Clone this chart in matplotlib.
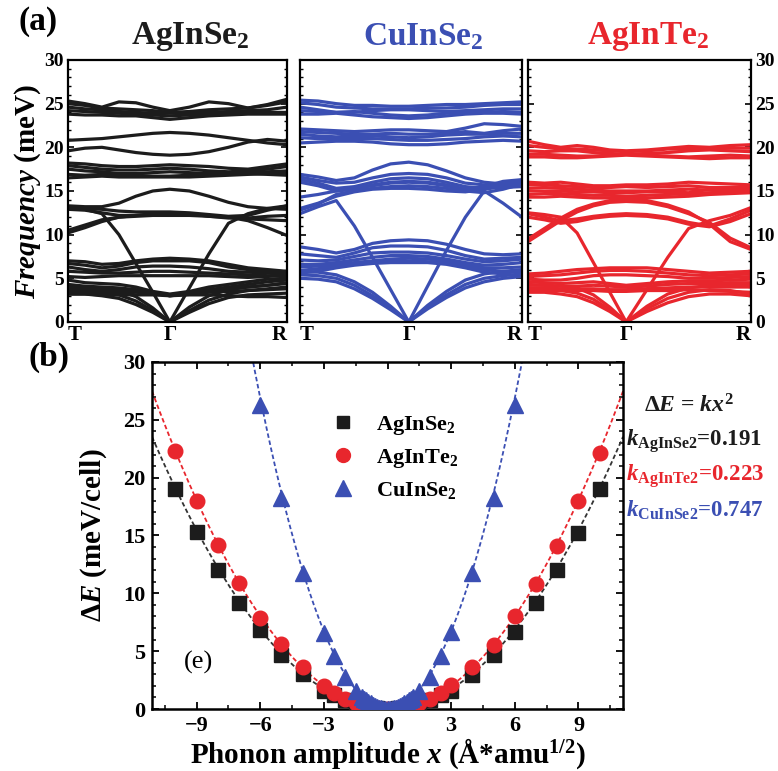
import numpy as np
import matplotlib
matplotlib.use("Agg")
import matplotlib.pyplot as plt
from matplotlib.lines import Line2D
from matplotlib.ticker import MultipleLocator

plt.rcParams['font.family'] = ['Liberation Serif', 'DejaVu Serif']
plt.rcParams['font.weight'] = 'bold'
plt.rcParams['mathtext.fontset'] = 'custom'
plt.rcParams['mathtext.rm'] = 'Liberation Serif:bold'
plt.rcParams['mathtext.it'] = 'Liberation Serif:italic:bold'
plt.rcParams['mathtext.bf'] = 'Liberation Serif:bold'

# ---------------- data ----------------
kpath_labels = ['T', 'Γ', 'R']
gamma_frac = [0.465, 0.49, 0.44]
titles = ['AgInSe$_\\mathbf{2}$', 'CuInSe$_\\mathbf{2}$', 'AgInTe$_\\mathbf{2}$']
colors = ['#1c1c1c', '#3b4fb3', '#e8262d']

# phonon branches, 13 k-points: T ... Gamma (index 6) ... R
agse_bands = [
    [25.3, 25.0, 24.6, 25.2, 25.1, 24.6, 24.2, 24.6, 25.2, 25.0, 24.5, 24.9, 25.5],
    [25.0, 24.8, 24.5, 24.4, 24.3, 24.2, 24.0, 24.1, 24.3, 24.4, 24.5, 24.8, 25.2],
    [24.6, 24.4, 24.3, 24.1, 24.0, 23.9, 23.9, 23.9, 24.0, 24.1, 24.2, 24.3, 24.6],
    [24.2, 24.1, 24.0, 23.9, 23.8, 23.7, 23.6, 23.7, 23.8, 23.9, 24.0, 24.0, 24.0],
    [23.8, 23.7, 23.7, 23.6, 23.6, 23.4, 23.2, 23.4, 23.6, 23.7, 23.8, 23.8, 23.8],
    [20.8, 20.9, 21.0, 21.2, 21.4, 21.6, 21.7, 21.6, 21.4, 21.1, 20.8, 20.5, 20.3],
    [19.6, 19.9, 20.0, 19.7, 19.4, 19.2, 19.1, 19.2, 19.5, 20.0, 20.6, 20.9, 20.7],
    [18.2, 18.1, 17.9, 17.8, 17.8, 17.9, 18.0, 17.9, 17.8, 17.6, 17.5, 17.8, 18.1],
    [17.9, 17.7, 17.5, 17.4, 17.4, 17.5, 17.6, 17.5, 17.3, 17.2, 17.3, 17.5, 17.8],
    [17.5, 17.3, 17.2, 17.0, 17.0, 17.1, 17.2, 17.1, 17.0, 17.0, 17.1, 17.2, 17.3],
    [16.9, 16.8, 16.9, 16.9, 16.8, 16.7, 16.7, 16.8, 16.9, 17.0, 17.0, 16.9, 16.8],
    [16.5, 16.6, 16.7, 16.6, 16.6, 16.6, 16.6, 16.6, 16.7, 16.8, 16.9, 17.0, 17.0],
    [13.3, 13.2, 13.2, 13.6, 14.4, 15.0, 15.2, 15.0, 14.4, 13.7, 13.2, 13.0, 12.9],
    [13.1, 13.0, 12.9, 12.7, 12.6, 12.6, 12.6, 12.5, 12.3, 12.1, 12.2, 12.8, 13.3],
    [12.9, 12.8, 12.5, 12.2, 12.2, 12.4, 12.5, 12.4, 12.1, 11.9, 11.9, 12.1, 12.2],
    [10.2, 10.8, 11.5, 12.0, 12.2, 12.3, 12.3, 12.3, 12.2, 12.0, 11.8, 11.7, 11.6],
    [10.5, 11.1, 11.7, 12.0, 12.1, 12.2, 12.2, 12.2, 12.1, 12.0, 11.6, 10.8, 9.9],
    [13.0, 12.9, 12.4, 10.0, 6.7, 3.4, 0.0, 3.9, 7.8, 11.3, 12.4, 13.0, 13.3],
    [7.0, 6.9, 6.6, 6.7, 7.0, 7.2, 7.3, 7.2, 7.0, 6.6, 6.2, 6.0, 5.8],
    [6.7, 6.5, 6.2, 6.4, 6.8, 7.0, 7.0, 7.0, 6.8, 6.3, 6.0, 5.8, 5.6],
    [6.3, 6.0, 5.8, 6.0, 6.3, 6.4, 6.4, 6.3, 6.1, 5.8, 5.7, 5.6, 5.4],
    [5.8, 5.7, 5.6, 5.6, 5.7, 5.8, 5.8, 5.7, 5.6, 5.5, 5.4, 5.3, 5.2],
    [5.2, 5.1, 5.2, 5.3, 5.3, 5.3, 5.3, 5.3, 5.3, 5.2, 5.1, 5.2, 5.5],
    [4.8, 4.5, 4.4, 4.3, 4.0, 3.5, 3.2, 3.5, 4.0, 4.3, 4.6, 4.9, 5.0],
    [4.3, 4.1, 4.0, 3.9, 3.7, 3.4, 3.1, 3.4, 3.7, 4.0, 4.3, 4.6, 4.8],
    [3.9, 3.8, 3.6, 3.6, 3.6, 3.4, 3.0, 3.3, 3.6, 3.8, 4.0, 4.2, 4.4],
    [3.5, 3.4, 3.3, 3.3, 3.4, 3.3, 3.0, 3.2, 3.4, 3.5, 3.6, 3.7, 3.8],
    [3.2, 3.2, 3.1, 3.1, 3.1, 3.1, 3.0, 3.1, 3.1, 3.0, 2.9, 2.9, 2.8],
    [4.0, 4.0, 3.9, 3.6, 2.9, 1.6, 0.0, 1.7, 3.0, 3.7, 4.0, 4.2, 4.5],
    [3.6, 3.6, 3.4, 3.1, 2.4, 1.3, 0.0, 1.3, 2.5, 3.2, 3.6, 3.8, 4.0],
    [3.2, 3.2, 3.0, 2.7, 2.0, 1.1, 0.0, 1.1, 2.1, 2.8, 3.1, 3.2, 3.3],
]

cuse_bands = [
    [25.4, 25.3, 25.0, 24.8, 24.8, 24.7, 24.7, 24.8, 24.9, 24.9, 25.0, 25.1, 25.2],
    [25.1, 24.9, 24.6, 24.5, 24.4, 24.4, 24.4, 24.5, 24.5, 24.6, 24.8, 24.9, 24.9],
    [24.6, 24.3, 24.0, 24.0, 24.2, 24.3, 24.3, 24.2, 24.1, 24.2, 24.3, 24.4, 24.4],
    [24.2, 24.1, 24.0, 24.1, 23.9, 23.7, 23.6, 23.7, 23.9, 24.0, 24.0, 24.1, 24.0],
    [23.8, 23.8, 23.9, 23.7, 23.5, 23.4, 23.3, 23.4, 23.6, 23.8, 23.9, 23.9, 23.8],
    [22.1, 22.0, 21.9, 21.8, 21.9, 22.0, 22.0, 21.9, 21.8, 22.2, 22.7, 22.6, 22.4],
    [21.8, 21.7, 21.6, 21.5, 21.5, 21.6, 21.5, 21.5, 21.6, 21.8, 21.6, 21.9, 22.1],
    [21.5, 21.3, 21.2, 21.3, 21.3, 21.2, 21.1, 21.2, 21.4, 21.5, 21.5, 21.6, 21.6],
    [21.1, 21.0, 21.0, 21.0, 21.0, 20.9, 20.8, 20.8, 20.9, 21.0, 21.2, 21.3, 21.2],
    [20.5, 20.6, 20.7, 20.7, 20.6, 20.4, 20.3, 20.3, 20.4, 20.6, 20.7, 20.8, 20.7],
    [16.9, 16.6, 16.2, 16.5, 17.4, 18.1, 18.3, 18.0, 17.3, 16.5, 16.0, 15.8, 15.6],
    [16.6, 16.2, 15.9, 16.0, 16.5, 16.9, 17.0, 16.9, 16.5, 15.9, 15.7, 15.8, 16.2],
    [16.3, 15.9, 15.3, 15.5, 16.0, 16.4, 16.5, 16.4, 16.0, 15.5, 15.3, 15.6, 16.0],
    [16.0, 15.6, 15.0, 15.2, 15.7, 16.0, 16.1, 16.0, 15.7, 15.2, 15.4, 15.4, 15.5],
    [14.3, 14.6, 15.0, 15.3, 15.6, 15.9, 16.0, 15.9, 15.6, 15.2, 15.5, 16.1, 16.3],
    [12.8, 13.5, 14.6, 15.0, 15.3, 15.5, 15.6, 15.5, 15.3, 15.0, 14.8, 15.2, 15.8],
    [13.0, 13.6, 14.4, 14.9, 15.2, 15.3, 15.3, 15.2, 15.0, 14.9, 15.2, 15.5, 15.6],
    [12.4, 13.2, 13.9, 11.0, 7.4, 3.7, 0.0, 4.1, 8.2, 12.0, 15.0, 13.6, 12.0],
    [8.6, 8.3, 7.9, 8.3, 9.0, 9.3, 9.4, 9.3, 8.9, 8.3, 7.8, 7.7, 7.8],
    [7.8, 7.6, 7.4, 7.9, 8.5, 8.7, 8.7, 8.6, 8.2, 7.6, 7.2, 7.3, 7.4],
    [7.1, 7.0, 7.1, 7.5, 7.9, 8.0, 8.0, 7.9, 7.6, 7.2, 6.9, 7.0, 7.2],
    [6.6, 6.6, 6.8, 7.1, 7.4, 7.6, 7.6, 7.5, 7.2, 6.8, 6.5, 6.6, 6.8],
    [6.3, 6.4, 6.6, 6.8, 7.0, 7.2, 7.3, 7.2, 7.0, 6.6, 6.2, 6.2, 6.3],
    [5.9, 6.1, 6.4, 6.6, 6.8, 7.0, 7.0, 6.9, 6.8, 6.4, 6.0, 5.8, 5.7],
    [5.6, 5.8, 6.2, 6.5, 6.7, 6.8, 6.8, 6.8, 6.6, 6.2, 5.7, 5.5, 5.3],
    [5.8, 5.7, 5.4, 4.6, 3.4, 1.8, 0.0, 1.9, 3.5, 4.8, 5.5, 5.8, 6.0],
    [5.4, 5.3, 5.0, 4.2, 3.0, 1.6, 0.0, 1.7, 3.1, 4.3, 5.0, 5.3, 5.5],
    [5.0, 4.9, 4.6, 3.8, 2.7, 1.4, 0.0, 1.5, 2.8, 3.9, 4.6, 5.0, 5.2],
]

agte_bands = [
    [20.7, 20.3, 20.0, 20.2, 20.0, 19.7, 19.6, 19.7, 19.9, 20.1, 20.0, 20.2, 20.3],
    [20.2, 20.0, 19.8, 19.8, 19.7, 19.6, 19.5, 19.6, 19.8, 19.8, 19.9, 19.9, 19.9],
    [19.6, 19.5, 19.6, 19.6, 19.4, 19.3, 19.2, 19.3, 19.4, 19.6, 19.7, 19.6, 19.5],
    [19.2, 19.2, 19.1, 19.0, 19.0, 19.1, 19.2, 19.1, 19.0, 18.9, 19.0, 19.1, 19.0],
    [18.9, 18.9, 18.8, 18.8, 18.9, 19.0, 19.1, 19.0, 18.9, 18.8, 18.7, 18.8, 18.8],
    [16.0, 15.9, 16.0, 15.8, 15.6, 15.6, 15.7, 15.7, 15.8, 16.0, 15.9, 15.8, 15.7],
    [15.7, 15.7, 15.6, 15.5, 15.4, 15.4, 15.5, 15.4, 15.5, 15.6, 15.4, 15.4, 15.5],
    [15.3, 15.4, 15.3, 15.2, 15.1, 15.0, 15.0, 15.0, 15.1, 15.2, 15.1, 15.2, 15.3],
    [15.0, 15.0, 15.0, 14.9, 14.9, 14.8, 14.8, 14.9, 14.9, 14.8, 15.2, 15.1, 15.1],
    [14.6, 14.7, 14.7, 14.6, 14.5, 14.5, 14.4, 14.5, 14.6, 14.7, 14.8, 14.9, 15.0],
    [14.3, 14.3, 14.4, 14.3, 14.2, 14.2, 14.2, 14.2, 14.3, 14.4, 14.6, 14.7, 14.8],
    [9.2, 10.4, 11.6, 12.6, 13.3, 13.7, 13.8, 13.7, 13.2, 12.4, 11.4, 9.6, 8.5],
    [9.5, 10.7, 11.9, 12.9, 13.5, 13.9, 14.0, 13.9, 13.4, 12.6, 11.2, 9.2, 8.3],
    [12.4, 12.0, 11.6, 11.8, 12.1, 12.3, 12.4, 12.3, 12.0, 11.4, 11.0, 11.8, 12.8],
    [12.0, 11.7, 11.3, 11.5, 11.9, 12.1, 12.2, 12.1, 11.8, 11.2, 10.9, 11.5, 12.4],
    [12.5, 12.3, 12.0, 10.2, 6.8, 3.4, 0.0, 3.7, 7.4, 10.7, 11.6, 12.2, 13.1],
    [5.5, 5.6, 5.8, 6.0, 6.1, 6.2, 6.2, 6.2, 6.0, 5.8, 5.6, 5.7, 5.8],
    [5.2, 5.3, 5.4, 5.6, 5.8, 5.9, 5.9, 5.8, 5.6, 5.4, 5.3, 5.4, 5.5],
    [4.9, 4.8, 4.8, 5.0, 5.3, 5.4, 5.4, 5.3, 5.2, 5.0, 5.0, 5.1, 5.2],
    [4.6, 4.5, 4.4, 4.5, 4.6, 4.4, 4.2, 4.4, 4.6, 4.7, 4.7, 4.8, 4.9],
    [4.3, 4.2, 4.1, 4.1, 4.2, 4.1, 4.0, 4.1, 4.3, 4.4, 4.4, 4.5, 4.5],
    [3.9, 3.9, 3.8, 3.8, 3.8, 3.7, 3.7, 3.8, 3.9, 4.0, 4.0, 4.0, 4.0],
    [3.6, 3.6, 3.6, 3.6, 3.6, 3.5, 3.5, 3.6, 3.6, 3.7, 3.6, 3.5, 3.4],
    [4.2, 4.2, 4.1, 3.9, 3.1, 1.7, 0.0, 1.8, 3.2, 3.9, 4.2, 4.3, 4.2],
    [3.8, 3.8, 3.6, 3.3, 2.6, 1.4, 0.0, 1.5, 2.7, 3.4, 3.7, 3.6, 3.2],
    [3.4, 3.4, 3.2, 2.9, 2.2, 1.2, 0.0, 1.2, 2.2, 2.9, 3.2, 3.2, 3.0],
]

# panel (b): energy vs phonon amplitude
x_ag = [-10, -9, -8, -7, -6, -5, -4, -3, -2.5, -2, -1.5, -1, -0.5, 0,
        0.5, 1, 1.5, 2, 2.5, 3, 4, 5, 6, 7, 8, 9, 10]
e_agse = [19.0, 15.3, 12.0, 9.2, 6.8, 4.7, 3.0, 1.6, 1.2, 0.8, 0.45, 0.2, 0.05, 0.0,
          0.05, 0.2, 0.45, 0.8, 1.2, 1.6, 2.9, 4.7, 6.7, 9.2, 12.0, 15.2, 19.0]
e_agte = [22.3, 18.0, 14.2, 10.9, 7.9, 5.6, 3.6, 2.0, 1.4, 0.9, 0.5, 0.22, 0.06, 0.0,
          0.06, 0.22, 0.5, 0.9, 1.4, 2.1, 3.6, 5.5, 8.0, 10.8, 14.1, 18.0, 22.1]
x_cu = [-6, -5, -4, -3, -2.5, -2, -1.5, -1.2, -1.1, -1.0, -0.9, -0.8, -0.7, -0.6, -0.5,
        -0.4, -0.3, -0.2, -0.1, 0, 0.1, 0.2, 0.3, 0.4, 0.5, 0.6, 0.7, 0.8, 0.9, 1.0,
        1.1, 1.2, 1.5, 2, 2.5, 3, 4, 5, 6]
e_cuse = [26.3, 18.2, 11.8, 6.6, 4.6, 2.8, 1.6, 1.08, 0.90, 0.75, 0.61, 0.48, 0.37, 0.27, 0.19,
          0.12, 0.07, 0.03, 0.01, 0.0, 0.01, 0.03, 0.07, 0.12, 0.19, 0.27, 0.37, 0.48, 0.61, 0.75,
          0.90, 1.08, 1.6, 2.8, 4.6, 6.7, 11.8, 18.2, 26.3]
k_fit = {'AgInSe2': 0.191, 'AgInTe2': 0.223, 'CuInSe2': 0.747}

# ---------------- figure ----------------
fig = plt.figure(figsize=(7.78, 7.71), dpi=100)

panel_pos = [(0.0874, 0.5824, 0.2815, 0.3398),
             (0.3856, 0.5824, 0.2853, 0.3398),
             (0.6787, 0.5824, 0.2866, 0.3398)]
title_x = [190 / 778, 423 / 778, 648 / 778]
all_bands = [agse_bands, cuse_bands, agte_bands]

for i in range(3):
    ax = fig.add_axes(panel_pos[i])
    g = gamma_frac[i]
    kk = np.concatenate([np.linspace(0, g, 7), np.linspace(g, 1, 7)[1:]])
    for b in all_bands[i]:
        ax.plot(kk, b, color=colors[i], lw=2.3, solid_capstyle='round',
                solid_joinstyle='round')
    ax.set_xlim(0, 1)
    ax.set_ylim(0, 30)
    ax.set_xticks([0, g, 1])
    ax.set_xticklabels(kpath_labels, fontsize=15, fontweight='bold')
    xl = ax.get_xticklabels()
    xl[0].set_horizontalalignment('left')
    xl[2].set_horizontalalignment('right')
    ax.tick_params(axis='x', length=0, pad=2)
    ax.yaxis.set_major_locator(MultipleLocator(5))
    ax.yaxis.set_minor_locator(MultipleLocator(1))
    ax.tick_params(axis='y', which='both', direction='in', left=True, right=True,
                   labelleft=(i == 0), labelright=(i == 2), labelsize=14, pad=3)
    ax.tick_params(axis='y', which='major', length=4, width=1.2)
    ax.tick_params(axis='y', which='minor', length=2.5, width=1.0)
    for s in ax.spines.values():
        s.set_linewidth(1.6)
    for t in ax.get_yticklabels():
        t.set_fontweight('bold')
    if i == 0:
        ax.set_ylabel('$\\mathit{Frequency}$ (meV)', fontsize=21, fontweight='bold',
                      labelpad=1)
    fig.text(title_x[i], 0.953, titles[i], color=colors[i], fontsize=24,
             fontweight='bold', ha='center', va='center')

fig.text(0.024, 0.972, '(a)', fontsize=24, fontweight='bold', va='center')
fig.text(0.036, 0.537, '(b)', fontsize=24, fontweight='bold', va='center')

# ---------------- panel (b) ----------------
axb = fig.add_axes((0.1954, 0.0804, 0.6054, 0.4501))
xf = np.linspace(-11.1, 11.1, 400)
axb.plot(xf, k_fit['AgInSe2'] * xf ** 2, ls=(0, (2.5, 1.5)), color='#333333', lw=1.3, zorder=2)
axb.plot(xf, k_fit['AgInTe2'] * xf ** 2, ls=(0, (2.5, 1.5)), color=colors[2], lw=1.3, zorder=2)
axb.plot(xf, k_fit['CuInSe2'] * xf ** 2, ls=(0, (2.5, 1.5)), color=colors[1], lw=1.3, zorder=2)
axb.plot(x_ag, e_agse, ls='none', marker='s', ms=9.5, color='#1c1c1c', zorder=3)
axb.plot(x_ag, e_agte, ls='none', marker='o', ms=10.5, color=colors[2], zorder=4)
axb.plot(x_cu, e_cuse, ls='none', marker='^', ms=12, color=colors[1], zorder=5)
axb.set_xlim(-11.1, 11.1)
axb.set_ylim(0, 30)
axb.xaxis.set_major_locator(MultipleLocator(3))
axb.xaxis.set_minor_locator(MultipleLocator(1.5))
axb.yaxis.set_major_locator(MultipleLocator(5))
axb.yaxis.set_minor_locator(MultipleLocator(1))
axb.tick_params(which='both', direction='in', top=True, right=True, labelsize=16)
axb.tick_params(which='major', length=5, width=1.3, pad=5)
axb.tick_params(which='minor', length=3, width=1.1)
for s in axb.spines.values():
    s.set_linewidth(1.8)
for t in axb.get_xticklabels() + axb.get_yticklabels():
    t.set_fontweight('bold')
axb.set_xlabel('Phonon amplitude $\\mathit{x}$ (Å*amu$^{\\mathbf{1/2}}$)', fontsize=21,
               fontweight='bold', labelpad=0)
axb.set_ylabel('$\\mathit{ΔE}$ (meV/cell)', fontsize=21, fontweight='bold', labelpad=10)
axb.text(-8.9, 4.0, '(e)', fontsize=19, fontweight='normal', ha='center', va='center')

handles = [Line2D([], [], ls='none', marker='s', ms=9, color='#1c1c1c'),
           Line2D([], [], ls='none', marker='o', ms=10, color=colors[2]),
           Line2D([], [], ls='none', marker='^', ms=11, color=colors[1])]
leg = axb.legend(handles, ['AgInSe$_\\mathbf{2}$', 'AgInTe$_\\mathbf{2}$', 'CuInSe$_\\mathbf{2}$'],
                 loc='upper left', bbox_to_anchor=(0.335, 0.907), frameon=False,
                 prop={'family': 'Liberation Serif', 'weight': 'bold', 'size': 16},
                 handletextpad=0.9, labelspacing=0.45, handlelength=1.2)

fig.text(0.885, 0.474, '$\\mathit{ΔE}$ = $\\mathit{kx}^{\\mathbf{2}}$', fontsize=17,
         fontweight='bold', ha='center', va='center', color='#1c1c1c')
fig.text(0.805, 0.428, '$\\mathit{k}_{\\mathbf{AgInSe2}}$=0.191', fontsize=16.5,
         fontweight='bold', ha='left', va='center', color='#1c1c1c')
fig.text(0.805, 0.383, '$\\mathit{k}_{\\mathbf{AgInTe2}}$=0.223', fontsize=16.5,
         fontweight='bold', ha='left', va='center', color=colors[2])
fig.text(0.805, 0.338, '$\\mathit{k}_{\\mathbf{CuInSe2}}$=0.747', fontsize=16.5,
         fontweight='bold', ha='left', va='center', color=colors[1])

fig.savefig('out.png', dpi=100)
